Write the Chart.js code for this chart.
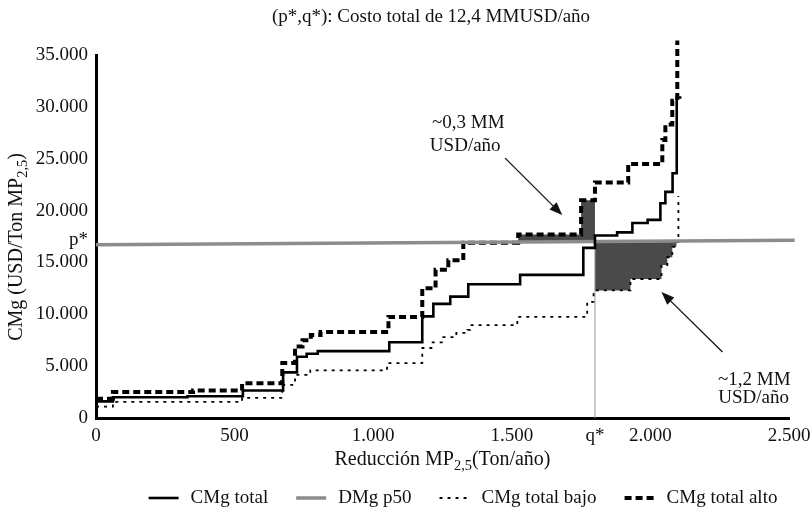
<!DOCTYPE html>
<html>
<head>
  <title>CMg y DMg MP2,5</title>
  <script src="https://cdn.jsdelivr.net/npm/chart.js"></script>
  <style>
    body { margin: 0; background: #fff; }
  </style>
</head>
<body>
  <canvas id="cmgChart" width="812" height="507"></canvas>

  <script>
    // ticks
    const xTicks = [0, 500, 1000, 1500, 2000, 2500];
    const yTicks = [0, 5000, 10000, 15000, 20000, 25000, 30000, 35000];
    const qStar = 1800;
    const pStar = 17200;

    // curvas escalonadas: x = inicio de cada tramo, y = valor del tramo
    const cmgX = [0, 61, 330, 530, 675, 725, 760, 800, 1058, 1177, 1217, 1278, 1343, 1530, 1758, 1800, 1880, 1935, 1990, 2036, 2054, 2080, 2095, 2112];
    const cmgY = [1600, 2000, 2100, 2650, 4400, 5900, 6200, 6450, 7300, 9800, 11000, 11700, 12900, 13800, 16400, 17600, 17900, 18800, 19100, 20700, 21800, 23600, 30900, 30900];

    const bajoX = [0, 61, 527, 672, 718, 773, 1050, 1177, 1210, 1253, 1300, 1340, 1350, 1520, 1772, 1795, 1928, 2040, 2061, 2079, 2094, 2101];
    const bajoY = [1100, 1550, 1950, 3200, 4150, 4600, 5300, 6750, 7300, 7800, 8200, 8500, 8950, 9750, 11200, 12300, 13400, 14750, 15500, 16500, 16950, 21400];

    const altoX = [0, 61, 350, 527, 672, 718, 745, 775, 810, 1055, 1177, 1225, 1271, 1325, 1523, 1750, 1800, 1920, 2043, 2054, 2079, 2097];
    const altoY = [1850, 2500, 2650, 3350, 5300, 6900, 7500, 8000, 8300, 9750, 12500, 14300, 15200, 16900, 17700, 21000, 22700, 24500, 26800, 28300, 30600, 36400];

    const dmgX = [0, 2520];
    const dmgY = [16700, 17150];

    // tramos sombreados
    const areaSup = [1523, qStar];
    const areaInf = [qStar, 2094];

    const serif = "'Liberation Serif', 'Times New Roman', serif";
    const ink = '#111';

    function pts(xs, ys) {
      return xs.map((x, i) => ({ x: x, y: ys[i] }));
    }

    // valor del tramo en x (strict: tramo que termina en x)
    function stepAt(xs, ys, x, strict) {
      let v = ys[0];
      for (let i = 0; i < xs.length; i++) {
        if (strict ? xs[i] < x : xs[i] <= x) v = ys[i];
      }
      return v;
    }

    function dmgAt(x) {
      return dmgY[0] + (dmgY[1] - dmgY[0]) * (x - dmgX[0]) / (dmgX[1] - dmgX[0]);
    }

    function stepCorners(xs, ys, x0, x1) {
      const out = [{ x: x0, y: stepAt(xs, ys, x0) }];
      for (let i = 1; i < xs.length; i++) {
        if (xs[i] > x0 && xs[i] < x1) {
          out.push({ x: xs[i], y: ys[i - 1] });
          out.push({ x: xs[i], y: ys[i] });
        }
      }
      out.push({ x: x1, y: stepAt(xs, ys, x1, true) });
      return out;
    }

    const polySup = stepCorners(altoX, altoY, areaSup[0], areaSup[1])
      .concat([{ x: areaSup[1], y: dmgAt(areaSup[1]) }, { x: areaSup[0], y: dmgAt(areaSup[0]) }]);
    const polyInf = [{ x: areaInf[0], y: dmgAt(areaInf[0]) }, { x: areaInf[1], y: dmgAt(areaInf[1]) }]
      .concat(stepCorners(bajoX, bajoY, areaInf[0], areaInf[1]).reverse());

    function fmt(v) {
      return String(v).replace(/\B(?=(\d{3})+(?!\d))/g, '.');
    }

    function richText(ctx, parts, x, y, size) {
      let w = 0;
      parts.forEach(p => {
        ctx.font = (p[1] ? size * 0.72 : size) + 'px ' + serif;
        w += ctx.measureText(p[0]).width;
      });
      let cx = x - w / 2;
      ctx.textAlign = 'left';
      ctx.textBaseline = 'middle';
      parts.forEach(p => {
        ctx.font = (p[1] ? size * 0.72 : size) + 'px ' + serif;
        ctx.fillText(p[0], cx, y + (p[1] ? size * 0.32 : 0));
        cx += ctx.measureText(p[0]).width;
      });
    }

    const notas = [
      { text: '~0,3 MM', x: 1343, y: 28440 },
      { text: 'USD/año', x: 1332, y: 26220 },
      { text: '~1,2 MM', x: 2375, y: 3660 },
      { text: 'USD/año', x: 2372, y: 1930 }
    ];
    const flechas = [
      { from: [1476, 25060], to: [1682, 19570] },
      { from: [2260, 6360], to: [2040, 12150] }
    ];

    // leyenda dibujada a mano con el estilo de cada serie
    function drawLegend(chart) {
      const ctx = chart.ctx;
      const items = chart.data.datasets.slice(0, 4);
      const size = 19, icon = 30, gapIcon = 12, gapItem = 28, cy = 498;
      ctx.font = size + 'px ' + serif;
      const widths = items.map(d => icon + gapIcon + ctx.measureText(d.label).width);
      const total = widths.reduce((a, b) => a + b, 0) + gapItem * (items.length - 1);
      let x = 463 - total / 2;
      items.forEach((d, i) => {
        ctx.save();
        ctx.strokeStyle = d.borderColor;
        ctx.lineWidth = d.borderWidth;
        ctx.setLineDash(d.borderDash || []);
        ctx.beginPath();
        ctx.moveTo(x, cy);
        ctx.lineTo(x + icon, cy);
        ctx.stroke();
        ctx.restore();
        ctx.fillStyle = ink;
        ctx.textAlign = 'left';
        ctx.textBaseline = 'middle';
        ctx.fillText(d.label, x + icon + gapIcon, cy);
        x += widths[i] + gapItem;
      });
    }

    const extras = {
      id: 'extras',
      afterDraw(chart) {
        const ctx = chart.ctx;
        const xs = chart.scales.x, ys = chart.scales.y;
        const area = chart.chartArea;
        ctx.save();
        ctx.fillStyle = ink;
        ctx.strokeStyle = ink;
        // titulo
        richText(ctx, [['(p*,q*): Costo total de 12,4 MMUSD/año', 0]], 431, 17, 19);
        // titulo eje x
        richText(ctx, [['Reducción MP', 0], ['2,5', 1], ['(Ton/año)', 0]], (area.left + area.right) / 2, 460, 20);
        // titulo eje y
        ctx.save();
        ctx.translate(17, 247);
        ctx.rotate(-Math.PI / 2);
        richText(ctx, [['CMg (USD/Ton MP', 0], ['2,5', 1], [')', 0]], 0, 0, 20);
        ctx.restore();
        // notas
        ctx.font = '19px ' + serif;
        ctx.textAlign = 'center';
        ctx.textBaseline = 'middle';
        notas.forEach(n => ctx.fillText(n.text, xs.getPixelForValue(n.x), ys.getPixelForValue(n.y)));
        // flechas
        ctx.lineWidth = 1.3;
        flechas.forEach(f => {
          const x0 = xs.getPixelForValue(f.from[0]), y0 = ys.getPixelForValue(f.from[1]);
          const x1 = xs.getPixelForValue(f.to[0]), y1 = ys.getPixelForValue(f.to[1]);
          const a = Math.atan2(y1 - y0, x1 - x0);
          ctx.beginPath();
          ctx.moveTo(x0, y0);
          ctx.lineTo(x1 - 8 * Math.cos(a), y1 - 8 * Math.sin(a));
          ctx.stroke();
          ctx.beginPath();
          ctx.moveTo(x1, y1);
          ctx.lineTo(x1 - 13 * Math.cos(a) + 5 * Math.sin(a), y1 - 13 * Math.sin(a) - 5 * Math.cos(a));
          ctx.lineTo(x1 - 13 * Math.cos(a) - 5 * Math.sin(a), y1 - 13 * Math.sin(a) + 5 * Math.cos(a));
          ctx.closePath();
          ctx.fill();
        });
        drawLegend(chart);
        ctx.restore();
      }
    };

    const lineBase = { pointRadius: 0, fill: false, stepped: true };

    new Chart(document.getElementById('cmgChart'), {
      type: 'line',
      data: {
        datasets: [
          Object.assign({}, lineBase, {
            label: 'CMg total', data: pts(cmgX, cmgY),
            borderColor: '#000', borderWidth: 2.6, order: 1, clip: false
          }),
          {
            label: 'DMg p50', data: pts(dmgX, dmgY), pointRadius: 0,
            borderColor: '#8c8c8c', borderWidth: 3.5, order: 2, clip: false
          },
          Object.assign({}, lineBase, {
            label: 'CMg total bajo', data: pts(bajoX, bajoY),
            borderColor: '#000', borderWidth: 1.8, borderDash: [3, 5], order: 3, clip: false
          }),
          Object.assign({}, lineBase, {
            label: 'CMg total alto', data: pts(altoX, altoY),
            borderColor: '#000', borderWidth: 4, borderDash: [7, 4], order: 4, clip: false
          }),
          {
            label: 'q*', data: [{ x: qStar, y: 0 }, { x: qStar, y: dmgAt(qStar) }], pointRadius: 0,
            borderColor: '#9a9a9a', borderWidth: 1, order: 8
          },
          {
            label: 'area sup', data: polySup, pointRadius: 0, borderWidth: 0,
            backgroundColor: '#4a4a4a', fill: 'shape', order: 9
          },
          {
            label: 'area inf', data: polyInf, pointRadius: 0, borderWidth: 0,
            backgroundColor: '#4a4a4a', fill: 'shape', order: 9
          }
        ]
      },
      options: {
        responsive: false,
        animation: false,
        events: [],
        layout: { padding: { left: 0, right: 0, top: 55, bottom: 0 } },
        plugins: {
          title: { display: false },
          legend: { display: false },
          tooltip: { enabled: false }
        },
        scales: {
          x: {
            type: 'linear',
            min: 0, max: 2500,
            grid: { display: false, drawTicks: false },
            border: { display: true, color: '#000', width: 3 },
            afterBuildTicks: s => {
              s.ticks = xTicks.concat([qStar]).sort((a, b) => a - b).map(v => ({ value: v }));
            },
            afterFit: s => {
              s.height = 89;
              s.paddingLeft = 0;
              s.paddingRight = 23;
            },
            ticks: {
              autoSkip: false, maxRotation: 0, padding: 7, color: ink,
              font: { family: serif, size: 19 },
              callback: v => v === qStar ? 'q*' : fmt(v)
            }
          },
          y: {
            min: 0, max: 35000,
            grid: { display: false, drawTicks: false },
            border: { display: true, color: '#000', width: 3 },
            afterBuildTicks: s => {
              s.ticks = yTicks.concat([pStar]).sort((a, b) => a - b).map(v => ({ value: v }));
            },
            afterFit: s => { s.width = 96; },
            ticks: {
              autoSkip: false, padding: 8, color: ink,
              font: { family: serif, size: 19 },
              callback: v => v === pStar ? 'p*' : fmt(v)
            }
          }
        }
      },
      plugins: [extras]
    });
  </script>
</body>
</html>
